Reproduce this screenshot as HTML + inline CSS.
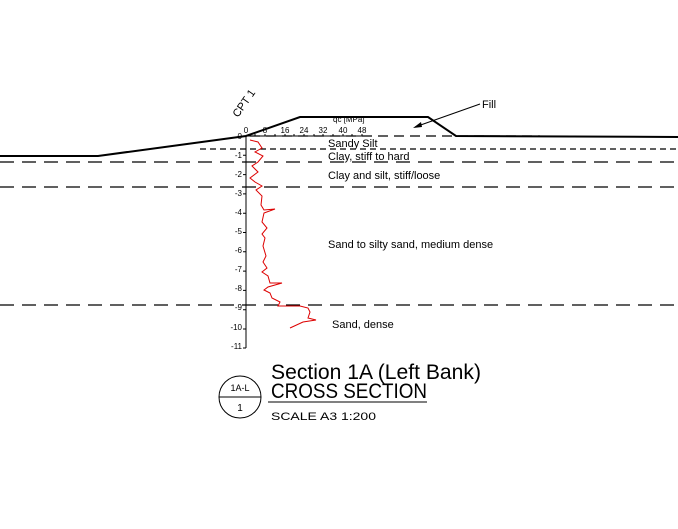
<!DOCTYPE html><html><head><style>body{margin:0;background:#fff}svg{display:block}text{font-family:"Liberation Sans",sans-serif}</style></head><body>
<svg width="678" height="529" viewBox="0 0 678 529" xmlns="http://www.w3.org/2000/svg">
<rect width="678" height="529" fill="#fff"/>
<g stroke="#000" stroke-width="1.2" fill="none">
<line x1="250" y1="136" x2="540" y2="136" stroke-dasharray="10,6"/>
<line x1="200" y1="149" x2="678" y2="149" stroke-dasharray="6,4"/>
<line x1="0" y1="162" x2="678" y2="162" stroke-dasharray="14,8"/>
<line x1="0" y1="187" x2="678" y2="187" stroke-dasharray="14,8"/>
<line x1="0" y1="305" x2="678" y2="305" stroke-dasharray="14,8"/>
</g>
<polyline points="0,156 98,156 246,136 300,117 428,117 456,136 678,137" fill="none" stroke="#000" stroke-width="2"/>
<line x1="480" y1="104" x2="415" y2="127" stroke="#000" stroke-width="1"/>
<polygon points="413,128 421,122 422,127" fill="#000"/>
<text x="482" y="108" font-size="11">Fill</text>
<text transform="translate(238,118) rotate(-55)" font-size="11">CPT 1</text>
<text x="333" y="122" font-size="8">qc [MPa]</text>
<g stroke="#000" stroke-width="1"><line x1="246" y1="136" x2="246" y2="348"/><line x1="246" y1="136" x2="370" y2="136"/></g>
<g stroke="#000" stroke-width="1">
<path d="M243,155.3h3M243,174.6h3M243,193.9h3M243,213.2h3M243,232.5h3M243,251.8h3M243,271.1h3M243,290.4h3M243,309.7h3M243,329h3M243,348h3"/>
<path d="M255,136v-2M265,136v-2M275,136v-2M285,136v-2M294,136v-2M304,136v-2M314,136v-2M323,136v-2M333,136v-2M343,136v-2M352,136v-2M362,136v-2"/>
</g>
<g font-size="8" text-anchor="middle">
<text x="246" y="133">0</text><text x="265" y="133">8</text><text x="285" y="133">16</text><text x="304" y="133">24</text><text x="323" y="133">32</text><text x="343" y="133">40</text><text x="362" y="133">48</text>
</g>
<g font-size="8" text-anchor="end">
<text x="242" y="139">0</text><text x="242" y="158">-1</text><text x="242" y="177">-2</text><text x="242" y="196">-3</text><text x="242" y="215">-4</text><text x="242" y="234">-5</text><text x="242" y="253">-6</text><text x="242" y="272">-7</text><text x="242" y="291">-8</text><text x="242" y="310">-9</text><text x="242" y="330">-10</text><text x="242" y="349">-11</text>
</g>
<polyline fill="none" stroke="#d00" stroke-width="1" points="250,140 258,142 262,148 255,152 263,156 258,162 252,166 258,172 250,178 255,182 262,186 256,190 262,196 261,205 264,210 275,209 264,213 262,222 267,228 262,234 265,238 263,246 266,256 263,262 267,268 262,272 268,276 270,283 282,283 268,287 264,290 270,293 272,298 280,302 278,306 300,306 308,308 310,312 308,318 316,320 303,322 290,328"/>
<g font-size="11">
<text x="328" y="147">Sandy Silt</text>
<text x="328" y="160">Clay, stiff to hard</text>
<text x="328" y="179">Clay and silt, stiff/loose</text>
<text x="328" y="248">Sand to silty sand, medium dense</text>
<text x="332" y="328">Sand, dense</text>
</g>
<circle cx="240" cy="397" r="21" fill="none" stroke="#000" stroke-width="1"/>
<line x1="219" y1="397" x2="261" y2="397" stroke="#000"/>
<text x="240" y="391" font-size="9" text-anchor="middle">1A-L</text>
<text x="240" y="411" font-size="10" text-anchor="middle">1</text>
<text x="271" y="379" font-size="21" textLength="210" lengthAdjust="spacingAndGlyphs">Section 1A (Left Bank)</text>
<text x="271" y="398" font-size="21" textLength="156" lengthAdjust="spacingAndGlyphs">CROSS SECTION</text>
<line x1="268" y1="402" x2="427" y2="402" stroke="#000" stroke-width="1"/>
<text x="271" y="420" font-size="11" textLength="105" lengthAdjust="spacingAndGlyphs">SCALE  A3 1:200</text>
</svg></body></html>
